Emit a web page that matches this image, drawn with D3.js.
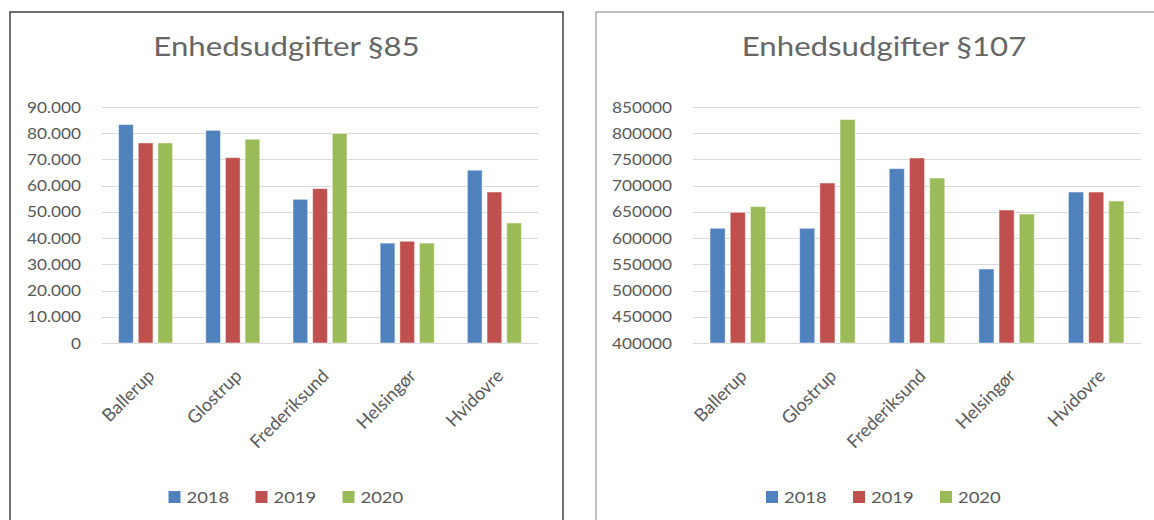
<!DOCTYPE html>
<html>
<head>
<meta charset="utf-8">
<script src="https://cdn.jsdelivr.net/npm/d3@7"></script>
<style>
  body { margin: 0; background: #fff; }
  text { font-family: Lato, "Open Sans", sans-serif; fill: #595959; }
</style>
</head>
<body>
<svg id="chart" width="1154" height="520"></svg>
<script>
// categories and series
var categories = ["Ballerup", "Glostrup", "Frederiksund", "Helsingør", "Hvidovre"];
var years = ["2018", "2019", "2020"];
var colors = ["#4F81BD", "#C0504D", "#9BBB59"];

// §85
var p85_2018 = [83300, 81100, 54800, 38100, 65900];
var p85_2019 = [76300, 70700, 58900, 38800, 57600];
var p85_2020 = [76300, 77700, 79900, 38100, 45800];
var ticks85 = [0, 10000, 20000, 30000, 40000, 50000, 60000, 70000, 80000, 90000];

// §107
var p107_2018 = [618700, 618700, 732500, 541100, 687900];
var p107_2019 = [649200, 705100, 752800, 653600, 687900];
var p107_2020 = [660100, 826000, 714600, 646000, 670800];
var ticks107 = [400000, 450000, 500000, 550000, 600000, 650000, 700000, 750000, 800000, 850000];

var dk = d3.formatLocale({decimal: ",", thousands: ".", grouping: [3], currency: ["", " kr"]});

// text in the picture is a bit wider than the font, stretch it horizontally
var sx = 1.15;

var svg = d3.select("#chart");

function drawChart(opt) {
    var g = svg.append("g");

    // panel frame
    g.append("rect")
        .attr("x", opt.frame[0]).attr("y", opt.frame[1])
        .attr("width", opt.frame[2]).attr("height", opt.frame[3])
        .attr("fill", "#fff")
        .attr("stroke", opt.frameColor)
        .attr("stroke-width", opt.frameWidth);

    var cx = opt.frame[0] + opt.frame[2] / 2;

    g.append("text")
        .attr("transform", "translate(" + cx + ",56) scale(1.2,1)")
        .attr("text-anchor", "middle")
        .style("font-size", "26px")
        .style("fill", "#666")
        .text(opt.title);

    var x0 = d3.scaleBand()
        .domain(categories)
        .range([opt.left, opt.right])
        .paddingInner(0.38)
        .paddingOuter(0.19);

    var x1 = d3.scaleBand()
        .domain(years)
        .range([0, x0.bandwidth()])
        .paddingInner(0.25);

    var y = d3.scaleLinear()
        .domain(opt.domain)
        .range([opt.bottom, opt.top]);

    // gridlines
    g.selectAll(".grid")
        .data(opt.ticks)
        .enter().append("line")
        .attr("x1", opt.left).attr("x2", opt.right)
        .attr("y1", function(d) { return Math.round(y(d)) + 0.5; })
        .attr("y2", function(d) { return Math.round(y(d)) + 0.5; })
        .attr("stroke", "#D9D9D9")
        .attr("stroke-width", 1);

    // y tick labels
    g.selectAll(".ylab")
        .data(opt.ticks)
        .enter().append("text")
        .attr("transform", function(d) { return "translate(" + (opt.left - 21) + "," + (y(d) + 5.5) + ") scale(" + sx + ",1)"; })
        .attr("text-anchor", "end")
        .style("font-size", "15px")
        .text(opt.fmt);

    // bars
    var groups = g.selectAll(".grp")
        .data(categories)
        .enter().append("g")
        .attr("transform", function(d) { return "translate(" + x0(d) + ",0)"; });

    groups.selectAll("rect")
        .data(function(d, i) {
            return years.map(function(yr, j) { return {year: yr, v: opt.series[j][i], c: colors[j]}; });
        })
        .enter().append("rect")
        .attr("x", function(d) { return x1(d.year); })
        .attr("y", function(d) { return y(d.v); })
        .attr("width", x1.bandwidth())
        .attr("height", function(d) { return opt.bottom - y(d.v); })
        .attr("fill", function(d) { return d.c; })
        .attr("stroke", "#fff")
        .attr("stroke-opacity", 0.5)
        .attr("stroke-width", 1);

    // category labels
    g.selectAll(".xlab")
        .data(categories)
        .enter().append("text")
        .attr("transform", function(d) {
            return "translate(" + (x0(d) + x0.bandwidth() / 2 + 10) + "," + (opt.bottom + 34) + ") rotate(-45)";
        })
        .attr("text-anchor", "end")
        .style("font-size", "18px")
        .text(function(d) { return d; });

    // legend
    var step = 87;
    var lg = g.append("g")
        .attr("transform", "translate(" + (cx - 118) + ",491)");
    var item = lg.selectAll(".item")
        .data(years)
        .enter().append("g")
        .attr("transform", function(d, i) { return "translate(" + (i * step) + ",0)"; });
    item.append("rect")
        .attr("width", 12).attr("height", 12)
        .attr("fill", function(d, i) { return colors[i]; });
    item.append("text")
        .attr("transform", "translate(18,12) scale(" + sx + ",1)")
        .style("font-size", "16px")
        .text(function(d) { return d; });
}

drawChart({
    title: "Enhedsudgifter §85",
    frame: [10, 12, 553, 530],
    frameColor: "#404040",
    frameWidth: 1.5,
    left: 102, right: 538, top: 107, bottom: 343,
    domain: [0, 90000],
    ticks: ticks85,
    fmt: dk.format(",d"),
    series: [p85_2018, p85_2019, p85_2020]
});

drawChart({
    title: "Enhedsudgifter §107",
    frame: [596, 12, 576, 530],
    frameColor: "#808080",
    frameWidth: 1,
    left: 693, right: 1141, top: 107, bottom: 343,
    domain: [400000, 850000],
    ticks: ticks107,
    fmt: d3.format("d"),
    series: [p107_2018, p107_2019, p107_2020]
});
</script>
</body>
</html>
